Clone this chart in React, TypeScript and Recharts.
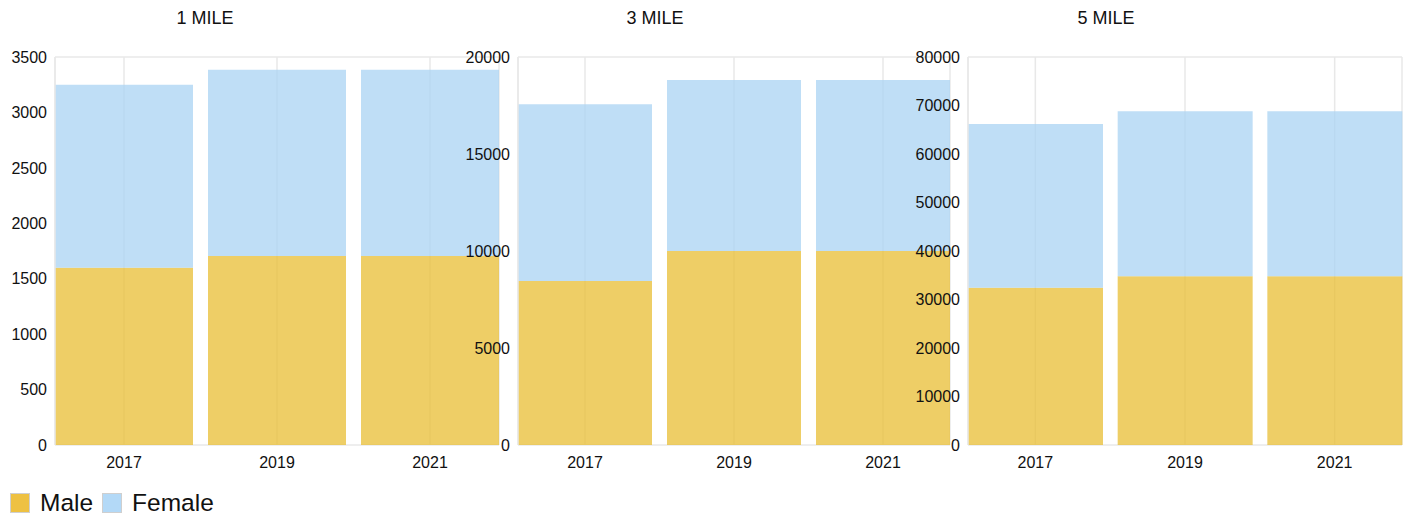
import * as React from 'react';
import { BarChart, Bar, XAxis, YAxis, CartesianGrid } from 'recharts';

const YEARS = ['2017', '2019', '2021'];

const MALE_1 = [1600, 1705, 1705];
const FEMALE_1 = [1650, 1680, 1680];
const MALE_3 = [8450, 10000, 10000];
const FEMALE_3 = [9110, 8810, 8810];
const MALE_5 = [32400, 34800, 34800];
const FEMALE_5 = [33800, 34000, 34000];

const TICKS_1 = [0, 500, 1000, 1500, 2000, 2500, 3000, 3500];
const TICKS_3 = [0, 5000, 10000, 15000, 20000];
const TICKS_5 = [0, 10000, 20000, 30000, 40000, 50000, 60000, 70000, 80000];

const TITLES = ['1 MILE', '3 MILE', '5 MILE'];
const SERIES = [
  { key: 'male', name: 'Male', fill: '#E8BD33', swatch: '#EEC142' },
  { key: 'female', name: 'Female', fill: '#AAD3F3', swatch: '#B3D9F7' },
];

const FONT = '"Liberation Sans", Arial, sans-serif';
const GRID = '#e8e8e8';

function toRows(male: number[], female: number[]) {
  return YEARS.map((year, i) => ({ year, male: male[i], female: female[i] }));
}

type MileProps = {
  left: number;
  width: number;
  yWidth: number;
  male: number[];
  female: number[];
  ticks: number[];
};

function MileChart({ left, width, yWidth, male, female, ticks }: MileProps) {
  const data = toRows(male, female);
  const max = ticks[ticks.length - 1];
  return (
    <div style={{ position: 'absolute', left, top: 40 }}>
      <BarChart
        width={width}
        height={435}
        data={data}
        margin={{ top: 17, right: 5, bottom: 0, left: 0 }}
        barCategoryGap={7.5}
      >
        <CartesianGrid stroke={GRID} strokeWidth={1.5} />
        <XAxis
          dataKey="year"
          padding={{ left: -7.5, right: -7.5 }}
          axisLine={false}
          tickLine={false}
          tickMargin={6}
          height={30}
          tick={{ fill: '#111', fontSize: 16, fontFamily: FONT }}
        />
        <YAxis
          yAxisId="l"
          width={yWidth}
          domain={[0, max]}
          ticks={ticks}
          interval={0}
          axisLine={{ stroke: GRID, strokeWidth: 1.5 }}
          tickLine={false}
          tick={{ fill: '#111', fontSize: 16, fontFamily: FONT }}
        />
        <YAxis
          yAxisId="r"
          orientation="right"
          width={0}
          domain={[0, max]}
          tick={false}
          tickLine={false}
          axisLine={{ stroke: GRID, strokeWidth: 1.5 }}
        />
        {SERIES.map((s) => (
          <Bar
            key={s.key}
            yAxisId="l"
            dataKey={s.key}
            name={s.name}
            stackId="a"
            fill={s.fill}
            fillOpacity={0.75}
            isAnimationActive={false}
          />
        ))}
      </BarChart>
    </div>
  );
}

const TITLE_X = [205, 655, 1106];

export default function App() {
  return (
    <div
      style={{
        position: 'fixed',
        left: 0,
        top: 0,
        width: 1413,
        height: 517,
        background: '#fff',
        fontFamily: FONT,
        color: '#111',
      }}
    >
      {TITLES.map((t, i) => (
        <div
          key={t}
          style={{
            position: 'absolute',
            left: TITLE_X[i],
            top: 7,
            transform: 'translateX(-50%)',
            fontSize: 18,
            lineHeight: '22px',
            whiteSpace: 'nowrap',
          }}
        >
          {t}
        </div>
      ))}
      <MileChart left={0} width={504} yWidth={55} male={MALE_1} female={FEMALE_1} ticks={TICKS_1} />
      <MileChart left={455} width={500} yWidth={63} male={MALE_3} female={FEMALE_3} ticks={TICKS_3} />
      <MileChart left={900} width={507} yWidth={68} male={MALE_5} female={FEMALE_5} ticks={TICKS_5} />
      <div
        style={{
          position: 'absolute',
          left: 10,
          top: 490,
          display: 'flex',
          alignItems: 'center',
          fontSize: 24.5,
          lineHeight: '26px',
        }}
      >
        {SERIES.map((s) => (
          <div key={s.key} style={{ display: 'flex', alignItems: 'center', marginRight: 9 }}>
            <span
              style={{
                display: 'inline-block',
                width: 18,
                height: 18,
                background: s.swatch,
                border: '1px solid #cfcfcf',
                marginRight: 10,
              }}
            />
            <span>{s.name}</span>
          </div>
        ))}
      </div>
    </div>
  );
}
